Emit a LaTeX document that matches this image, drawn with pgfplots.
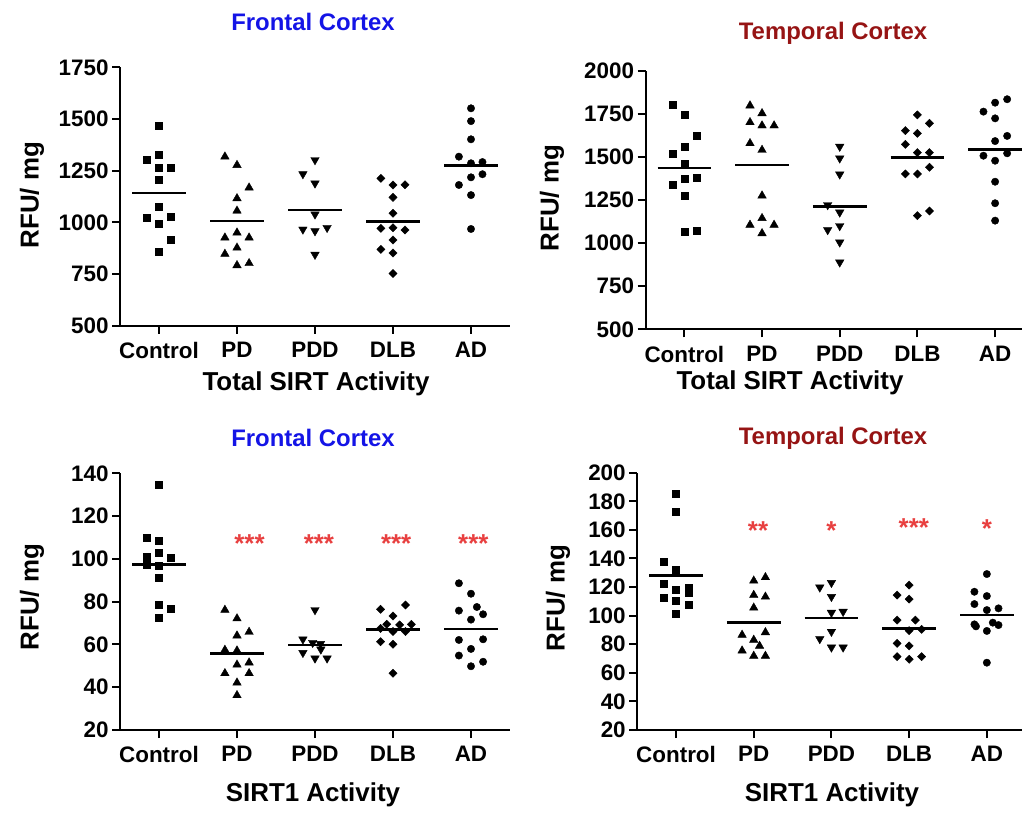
\documentclass[border=0pt]{standalone}
\usepackage{fontspec}
\setmainfont{Liberation Sans}
\usepackage{pgfplots}
\pgfplotsset{compat=1.18}

\definecolor{titleblue}{RGB}{20,20,230}
\definecolor{titlered}{RGB}{150,20,20}
\definecolor{starred}{RGB}{232,64,64}

\pgfplotsset{
  dotplot/.style={
    scale only axis, anchor=south west,
    xmin=-0.5, xmax=4.5,
    axis x line*=bottom, axis y line*=left,
    axis line style={line width=2bp, -},
    tick align=outside, major tick length=8bp,
    tick style={line width=2bp, black},
    xtick={0,1,2,3,4},
    xticklabels={Control,PD,PDD,DLB,AD},
    ticklabel style={font=\fontsize{22.5}{24}\selectfont\bfseries},
    xticklabel style={yshift=-5bp},
    /pgf/number format/assume math mode=true,
    /pgf/number format/1000 sep={},
    scaled y ticks=false, clip=false,
  },
  grpsq/.style={only marks, mark=square*, mark size=3.5bp, black},
  grpup/.style={only marks, mark=triangle*, mark size=4.9bp, black},
  grpdn/.style={only marks, mark=triangle*, mark size=4.9bp, black, mark options={rotate=180}},
  grpdm/.style={only marks, mark=square*, mark size=2.9bp, black, mark options={rotate=45}},
  grpci/.style={only marks, mark=*, mark size=3.7bp, black, fill=black},
  mean/.style={black, line width=2.6bp, mark=none},
}
\tikzset{
  ttl/.style={font=\fontsize{24}{26}\selectfont\bfseries},
  lbl/.style={font=\fontsize{26}{28}\selectfont\bfseries},
  stars/.style={font=\fontsize{26}{28}\selectfont\bfseries, text=starred, yshift=-5bp},
}

\begin{document}
\begin{tikzpicture}
\path[use as bounding box] (0,0) rectangle (1023bp,813bp);

% ---- Frontal cortex, total SIRT
\begin{axis}[dotplot, at={(120bp,487.3bp)}, width=390bp, height=258.3bp,
  ymin=500, ymax=1750, ytick={500,750,...,1750}]
\addplot[grpsq] coordinates {(0,1466) (0,1326) (-0.155,1302) (0,1266) (0.155,1266) (0,1205) (0,1076) (-0.155,1024) (0.155,1027) (0,994) (0.155,916) (0,858)};
\addplot[grpup] coordinates {(0.845,1318) (1,1277) (1.155,1168) (1,1116) (1,1056) (1,950) (0.845,926) (1.155,926) (1,877) (0.845,847) (1.155,802) (1,792)};
\addplot[grpdn] coordinates {(2,1302) (1.845,1234) (2,1189) (2,1039) (1.845,966) (2,958) (2.155,974) (2,844)};
\addplot[grpdm] coordinates {(2.845,1213) (3,1181) (3.155,1182) (3,1121) (3,1044) (2.845,971) (3,974) (3.155,963) (3,915) (2.845,869) (3,852) (3,753)};
\addplot[grpci] coordinates {(4,1552) (4,1490) (4,1402) (3.845,1318) (4.147,1292) (4,1286) (4.147,1233) (4,1218) (3.845,1181) (4,1132) (4,968)};
\addplot[mean] coordinates {(-0.345,1143) (0.345,1143)};
\addplot[mean] coordinates {(0.655,1006) (1.345,1006)};
\addplot[mean] coordinates {(1.655,1060) (2.345,1060)};
\addplot[mean] coordinates {(2.655,1003) (3.345,1003)};
\addplot[mean] coordinates {(3.655,1276) (4.345,1276)};
\end{axis}

% ---- Temporal cortex, total SIRT
\begin{axis}[dotplot, at={(645.5bp,483.7bp)}, width=376.8bp, height=258.3bp,
  xmax=4.35, ymin=500, ymax=2000, ytick={500,750,...,2000}]
\addplot[grpsq] coordinates {(-0.155,1806) (0,1748) (0.155,1625) (0,1561) (-0.155,1518) (0,1464) (0,1377) (0.155,1381) (-0.155,1338) (0,1276) (0,1067) (0.155,1073)};
\addplot[grpup] coordinates {(0.845,1799) (1,1754) (0.845,1702) (1,1683) (1.155,1683) (0.845,1580) (1,1541) (1,1276) (1,1145) (0.845,1106) (1.155,1106) (1,1057)};
\addplot[grpdn] coordinates {(2,1561) (2,1493) (2,1400) (1.845,1222) (2,1179) (2,1100) (1.845,1077) (2,1005) (2,889)};
\addplot[grpdm] coordinates {(3,1745) (3.155,1696) (2.845,1654) (3,1638) (2.845,1574) (3,1526) (3.155,1526) (3.155,1441) (2.845,1402) (3,1402) (3.155,1187) (3,1160)};
\addplot[grpci] coordinates {(4.155,1836) (4,1816) (3.85,1764) (4,1725) (4.155,1623) (4,1593) (4.155,1522) (3.85,1508) (4,1479) (4,1357) (4,1232) (4,1131)};
\addplot[mean] coordinates {(-0.345,1436) (0.345,1436)};
\addplot[mean] coordinates {(0.655,1454) (1.345,1454)};
\addplot[mean] coordinates {(1.655,1212) (2.345,1212)};
\addplot[mean] coordinates {(2.655,1499) (3.345,1499)};
\addplot[mean] coordinates {(3.655,1545) (4.345,1545)};
\end{axis}

% ---- Frontal cortex, SIRT1
\begin{axis}[dotplot, at={(120bp,83bp)}, width=390bp, height=256.7bp,
  ymin=20, ymax=140, ytick={20,40,...,140}]
\addplot[grpsq] coordinates {(0,134.9) (-0.155,110.1) (0,108.7) (0,102.9) (0.155,100.7) (-0.155,101.0) (-0.155,97.1) (0,96.7) (0,91.2) (0,78.8) (0.155,76.6) (0,72.7)};
\addplot[grpup] coordinates {(0.845,76.1) (1,72.1) (1.155,65.8) (1,64.1) (0.845,57.4) (1,57.1) (1.155,51.5) (1,50.5) (0.845,46.5) (1.155,46.5) (1,42.1) (1,36.2)};
\addplot[grpdn] coordinates {(2,76.1) (1.845,62.4) (1.97,60.8) (2.07,60.3) (2.075,57.7) (1.845,56.1) (2,53.5) (2.155,53.5)};
\addplot[grpdm] coordinates {(3.16,78.4) (2.84,76.4) (3,73.3) (2.92,69.4) (3.085,69.1) (3.235,69.4) (2.84,67.5) (3,66) (3.16,66) (2.84,61.3) (3,60.1) (3,46.5)};
\addplot[grpci] coordinates {(3.845,88.6) (4,83.7) (4.075,77.5) (3.845,75.8) (4.155,74.1) (4,71.6) (3.845,62.1) (4.155,62.4) (4,57.9) (3.845,54.8) (4.155,51.9) (4,49.8)};
\addplot[mean] coordinates {(-0.345,97.5) (0.345,97.5)};
\addplot[mean] coordinates {(0.655,55.8) (1.345,55.8)};
\addplot[mean] coordinates {(1.655,59.8) (2.345,59.8)};
\addplot[mean] coordinates {(2.655,67.1) (3.345,67.1)};
\addplot[mean] coordinates {(3.655,67.2) (4.345,67.2)};
\node[stars] at (axis cs:1.16,109.3) {***};
\node[stars] at (axis cs:2.05,109.3) {***};
\node[stars] at (axis cs:3.04,109.3) {***};
\node[stars] at (axis cs:4.03,109.3) {***};
\end{axis}

% ---- Temporal cortex, SIRT1
\begin{axis}[dotplot, at={(637.2bp,83bp)}, width=384.6bp, height=257.3bp,
  xmax=4.45, ymin=20, ymax=200, ytick={20,40,...,200}]
\addplot[grpsq] coordinates {(0,185.1) (0,172.7) (-0.155,137.7) (0,131.9) (-0.155,122.6) (0,118.4) (0.16,119.5) (0.16,116) (-0.155,112.5) (0,110.2) (0.16,107.9) (0,101.1)};
\addplot[grpup] coordinates {(1.15,126.8) (1,124.4) (1,114.4) (1.15,113.2) (1,105.5) (1.15,88.3) (0.85,86.5) (1,83) (1.075,78.8) (0.85,75.5) (1,71.8) (1.15,71.8)};
\addplot[grpdn] coordinates {(1.85,119.8) (2,123) (2,113.2) (2,102.1) (2.15,102.8) (2,88.8) (1.85,83.7) (2,77.8) (2.15,77.8)};
\addplot[grpdm] coordinates {(3,121.4) (2.845,114.4) (3,111.6) (2.845,96.9) (3.08,96.9) (3,89.5) (3.16,90.4) (2.845,80.6) (3,78.8) (2.845,71.3) (3,69.5) (3.16,71.3)};
\addplot[grpci] coordinates {(4,129.1) (3.84,116.7) (4,113.7) (3.84,108.1) (4,103.9) (4.15,105.1) (3.84,93.9) (3.86,92.5) (4.077,95.1) (4.15,93.4) (4,89.3) (4,67.1)};
\addplot[mean] coordinates {(-0.345,127.9) (0.345,127.9)};
\addplot[mean] coordinates {(0.655,95.3) (1.345,95.3)};
\addplot[mean] coordinates {(1.655,98.3) (2.345,98.3)};
\addplot[mean] coordinates {(2.655,91.1) (3.345,91.1)};
\addplot[mean] coordinates {(3.655,100.4) (4.345,100.4)};
\node[stars] at (axis cs:1.055,162.7) {**};
\node[stars] at (axis cs:2,162.7) {*};
\node[stars] at (axis cs:3.06,165) {***};
\node[stars] at (axis cs:4,164.6) {*};
\end{axis}

% titles and axis labels
\node[ttl, text=titleblue] at (313bp,791bp) {Frontal Cortex};
\node[ttl, text=titlered]  at (833bp,780bp) {Temporal Cortex};
\node[ttl, text=titleblue] at (313bp,375bp) {Frontal Cortex};
\node[ttl, text=titlered]  at (833bp,375bp) {Temporal Cortex};
\node[lbl] at (316bp,429bp) {Total SIRT Activity};
\node[lbl] at (790bp,430bp) {Total SIRT Activity};
\node[lbl] at (313bp,18bp) {SIRT1 Activity};
\node[lbl] at (832bp,18bp) {SIRT1 Activity};
\node[lbl, rotate=90] at (32bp,618bp) {RFU/ mg};
\node[lbl, rotate=90] at (552bp,615bp) {RFU/ mg};
\node[lbl, rotate=90] at (32bp,216bp) {RFU/ mg};
\node[lbl, rotate=90] at (558bp,215bp) {RFU/ mg};
\end{tikzpicture}
\end{document}
